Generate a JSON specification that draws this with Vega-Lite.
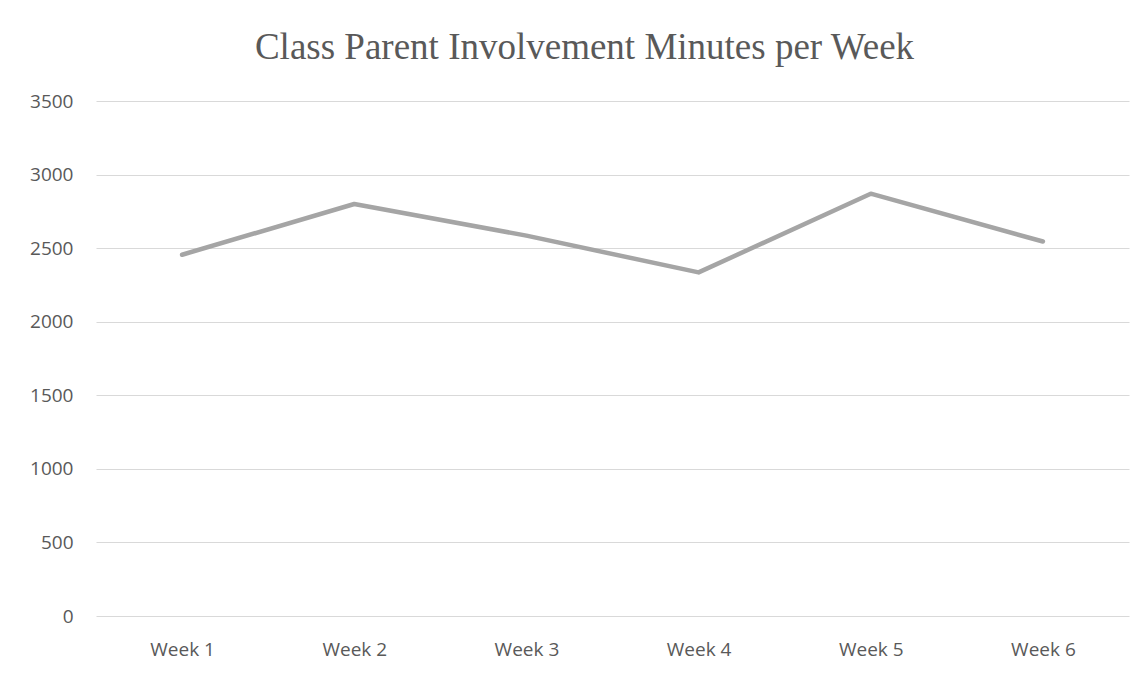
{
  "$schema": "https://vega.github.io/schema/vega-lite/v6.json",
  "autosize": {"type": "none"},
  "width": 1033,
  "height": 515,
  "padding": {"left": 96, "top": 101, "right": 19, "bottom": 58},
  "background": "white",
  "title": {
    "text": "Class Parent Involvement Minutes per Week",
    "font": "Liberation Serif",
    "fontSize": 37,
    "fontWeight": "normal",
    "color": "#595959",
    "anchor": "middle",
    "frame": "group",
    "dx": -28,
    "offset": 25
  },
  "data": {
    "values": [
      {"week": "Week 1", "minutes": 2455},
      {"week": "Week 2", "minutes": 2800},
      {"week": "Week 3", "minutes": 2585},
      {"week": "Week 4", "minutes": 2335},
      {"week": "Week 5", "minutes": 2870},
      {"week": "Week 6", "minutes": 2545}
    ]
  },
  "mark": {"type": "line", "color": "#A5A5A5", "strokeWidth": 4.5, "strokeCap": "round", "strokeJoin": "round"},
  "encoding": {
    "x": {
      "field": "week",
      "type": "ordinal",
      "sort": null,
      "scale": {"type": "point", "padding": 0.5},
      "axis": {
        "title": null,
        "labelAngle": 0,
        "domain": false,
        "ticks": false,
        "grid": false,
        "labelFont": "Open Sans",
        "labelFontSize": 19,
        "labelColor": "#595959",
        "labelPadding": 24
      }
    },
    "y": {
      "field": "minutes",
      "type": "quantitative",
      "scale": {"domain": [0, 3500], "nice": false},
      "axis": {
        "title": null,
        "values": [0, 500, 1000, 1500, 2000, 2500, 3000, 3500],
        "format": "d",
        "domain": false,
        "ticks": false,
        "grid": true,
        "gridColor": "#D9D9D9",
        "gridWidth": 1,
        "labelFont": "Open Sans",
        "labelFontSize": 19,
        "labelColor": "#595959",
        "labelPadding": 23
      }
    }
  },
  "config": {"view": {"stroke": null}}
}
